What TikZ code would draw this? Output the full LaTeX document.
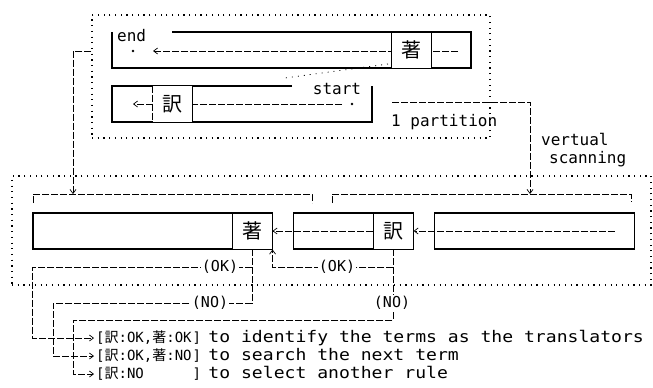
\documentclass[tikz,border=0pt]{standalone}
\usepackage{fontspec}
\usepackage{tikz}
\usetikzlibrary{arrows.meta, positioning}
\newfontfamily\dotfont{DejaVu Sans Mono}
\newfontfamily\widefont[FakeStretch=1.13]{DejaVu Sans Mono}
\newfontfamily\cjk{Noto Sans CJK JP}
\newcommand{\kj}[1]{{\cjk #1}}

\begin{document}
\begin{tikzpicture}[x=1pt, y=-1pt,
    rowline/.style={line width=1.1pt},
    rowbox/.style={draw, line width=1.1pt, minimum height=36pt, inner sep=0pt},
    cell/.style={draw, line width=0.8pt, fill=white, minimum width=40pt, minimum height=36pt, inner sep=0pt, font=\cjk\fontsize{20}{20}\selectfont},
    link/.style={line width=0.7pt, dash pattern=on 7pt off 2pt},
    tip/.style={-{Straight Barb[length=4pt, width=6pt]}},
    zone/.style={draw, line width=1.2pt, dash pattern=on 1.2pt off 4.5pt, inner sep=0pt},
    tag/.style={inner sep=1pt, font=\dotfont\fontsize{16}{18}\selectfont},
    lbl/.style={fill=white, inner sep=1pt, font=\dotfont\fontsize{15}{15}\selectfont},
    res/.style={inner xsep=2pt, inner ysep=0pt, text height=10pt, text depth=2pt, font=\dotfont\fontsize{14}{14}\selectfont},
    desc/.style={inner xsep=2pt, inner ysep=0pt, text height=10pt, text depth=2pt, font=\widefont\fontsize{16}{16}\selectfont}]
  \useasboundingbox (0,0) rectangle (653,388);

  % one partition, two rows
  \node[zone, minimum width=398pt, minimum height=123pt] (part1) at (291,76.5) {};
  \draw[rowline] (172,32) -| (471,68) -| (112,32);
  \node[tag, anchor=west] (endlbl) at (116,36) {end};
  \coordinate (endpt) at (133,51);
  \coordinate (wrap) at (458,51);
  \fill (endpt) circle (1.3pt);
  \draw[link, tip] (wrap) -- ([xshift=20pt]endpt);
  \node[cell] (cho0) at (411.5,50) {著};

  \draw[rowline] (292,86) -| (112,122) -| (372,86);
  \node[tag] (startlbl) at (337,89) {start};
  \coordinate (startpt) at (352,104);
  \fill (startpt) circle (1.3pt);
  \draw[link, tip] ([xshift=-10pt]startpt) -- (133,104);
  \node[cell, draw=none] (yaku0) at (172.5,104) {訳};
  \draw[rowline] (yaku0.north east) -- (yaku0.south east);
  \draw[link] (yaku0.north west) -- (yaku0.south west);
  \draw[line width=0.8pt, dash pattern=on 1pt off 5pt] (388,64) -- (285,78);

  \node[tag, anchor=west] (partlbl) at (390,122) {1 partition};
  \node[tag, anchor=north west, align=left] (vlbl) at (540,132) {vertual\\\hspace*{8pt}scanning};

  % scanning area
  \node[zone, minimum width=639pt, minimum height=109pt] (part2) at (331.5,230.5) {};
  \node[rowbox, minimum width=239pt] (box1) at (152.5,231) {};
  \node[rowbox, minimum width=120pt, right=20pt of box1] (box2) {};
  \node[rowbox, minimum width=200pt, right=20pt of box2] (box3) {};
  \node[cell, anchor=east] (cho) at (box1.east) {著};
  \node[cell, anchor=east] (yaku) at (box2.east) {訳};

  \draw[link] (33,203) |- (312,194) -- (312,203);
  \draw[link] (332,203) |- (631,194) -- (631,202);
  \coordinate (lscan) at (73,194);
  \coordinate (rscan) at (530,194);
  \coordinate (vscan) at (392,102);
  \draw[link, tip] (part1.west |- endpt) -| (lscan);
  \draw[link, tip] (vscan) -| (rscan);

  \draw[link, tip] ([xshift=-20pt]box3.east) -- (box2.east);
  \draw[link, tip] (yaku.west) -- (box1.east);

  % results
  \node[res, anchor=west] (r1) at (94,338) {[\makebox[88pt][l]{\kj{訳}:OK,\kj{著}:OK}]};
  \node[res, anchor=west] (r2) at (94,356) {[\makebox[88pt][l]{\kj{訳}:OK,\kj{著}:NO}]};
  \node[res, anchor=west] (r3) at (94,374) {[\makebox[88pt][l]{\kj{訳}:NO}]};
  \node[desc, anchor=west] (d1) at ([xshift=3pt]r1.east) {to identify the terms as the translators};
  \node[desc, anchor=west] (d2) at ([xshift=3pt]r2.east) {to search the next term};
  \node[desc, anchor=west] (d3) at ([xshift=3pt]r3.east) {to select another rule};

  \coordinate (colB) at (53,0);
  \coordinate (colC) at (73,0);
  \draw[link, tip] (cho.south) -- ++(0,18) coordinate (okA) -| (box1.west |- r1.west) -- (r1.west);
  \draw[link, tip] (okA) -- ++(0,36) -| (colB |- r2.west) -- (r2.west);
  \draw[link, tip] (yaku.south) -- ++(0,18) coordinate (okB) -| (box1.south east);
  \draw[link, tip] (okB) -- ++(0,53) -| (colC |- r3.west) -- (r3.west);

  \node[lbl] at (220,267) {(OK)};
  \node[lbl] at (337,267) {(OK)};
  \node[lbl] at (210,303) {(NO)};
  \node[lbl] at (392,303) {(NO)};
\end{tikzpicture}
\end{document}
